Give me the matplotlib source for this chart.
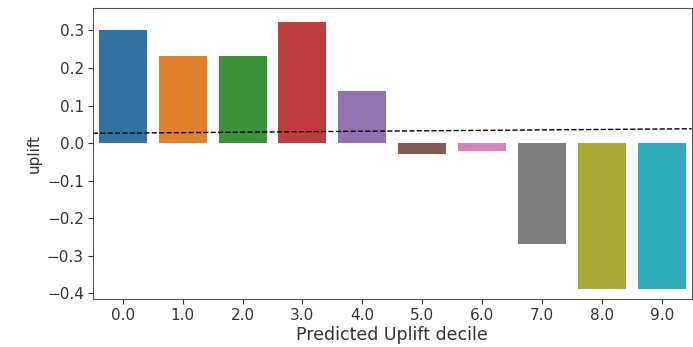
import matplotlib.pyplot as plt
import numpy as np

# uplift per predicted decile
deciles = [0.0, 1.0, 2.0, 3.0, 4.0, 5.0, 6.0, 7.0, 8.0, 9.0]
uplift = [0.30, 0.232, 0.232, 0.322, 0.138, -0.030, -0.022, -0.268, -0.390, -0.388]
# reference line endpoints (left edge, right edge)
baseline = [0.026, 0.038]

# tab10 at seaborn's 0.75 saturation
colors = ['#3274a1', '#e1812c', '#3a923a', '#c03d3e', '#9372b2',
          '#845b53', '#d684bd', '#7f7f7f', '#a9aa35', '#2eabb8']

fontsizer = 11
plt.rcParams['text.color'] = '#333333'
plt.rcParams['axes.labelcolor'] = '#333333'
plt.rcParams['xtick.color'] = '#333333'
plt.rcParams['ytick.color'] = '#333333'

fig = plt.figure(figsize=(6.93, 3.47), dpi=100)
ax = fig.add_axes([0.134, 0.138, 0.864, 0.839])

x = np.arange(len(deciles))
ax.bar(x, uplift, width=0.8, color=colors)
ax.plot([-0.5, len(deciles) - 0.5], baseline, 'k--', linewidth=1)

ax.set_xlim(-0.5, len(deciles) - 0.5)
ax.set_ylim(-0.416, 0.36)
ax.set_xticks(x)
ax.set_xticklabels([f'{d:.1f}' for d in deciles], fontsize=fontsizer)
ax.set_yticks([-0.4, -0.3, -0.2, -0.1, 0.0, 0.1, 0.2, 0.3])
ax.tick_params(axis='both', labelsize=fontsizer, pad=3)
ax.set_xlabel('Predicted Uplift decile', fontsize=12.5, labelpad=2)
ax.set_ylabel('uplift', fontsize=fontsizer, labelpad=4)
for s in ax.spines.values():
    s.set_color('#555555')

plt.savefig('out.png', dpi=100)
